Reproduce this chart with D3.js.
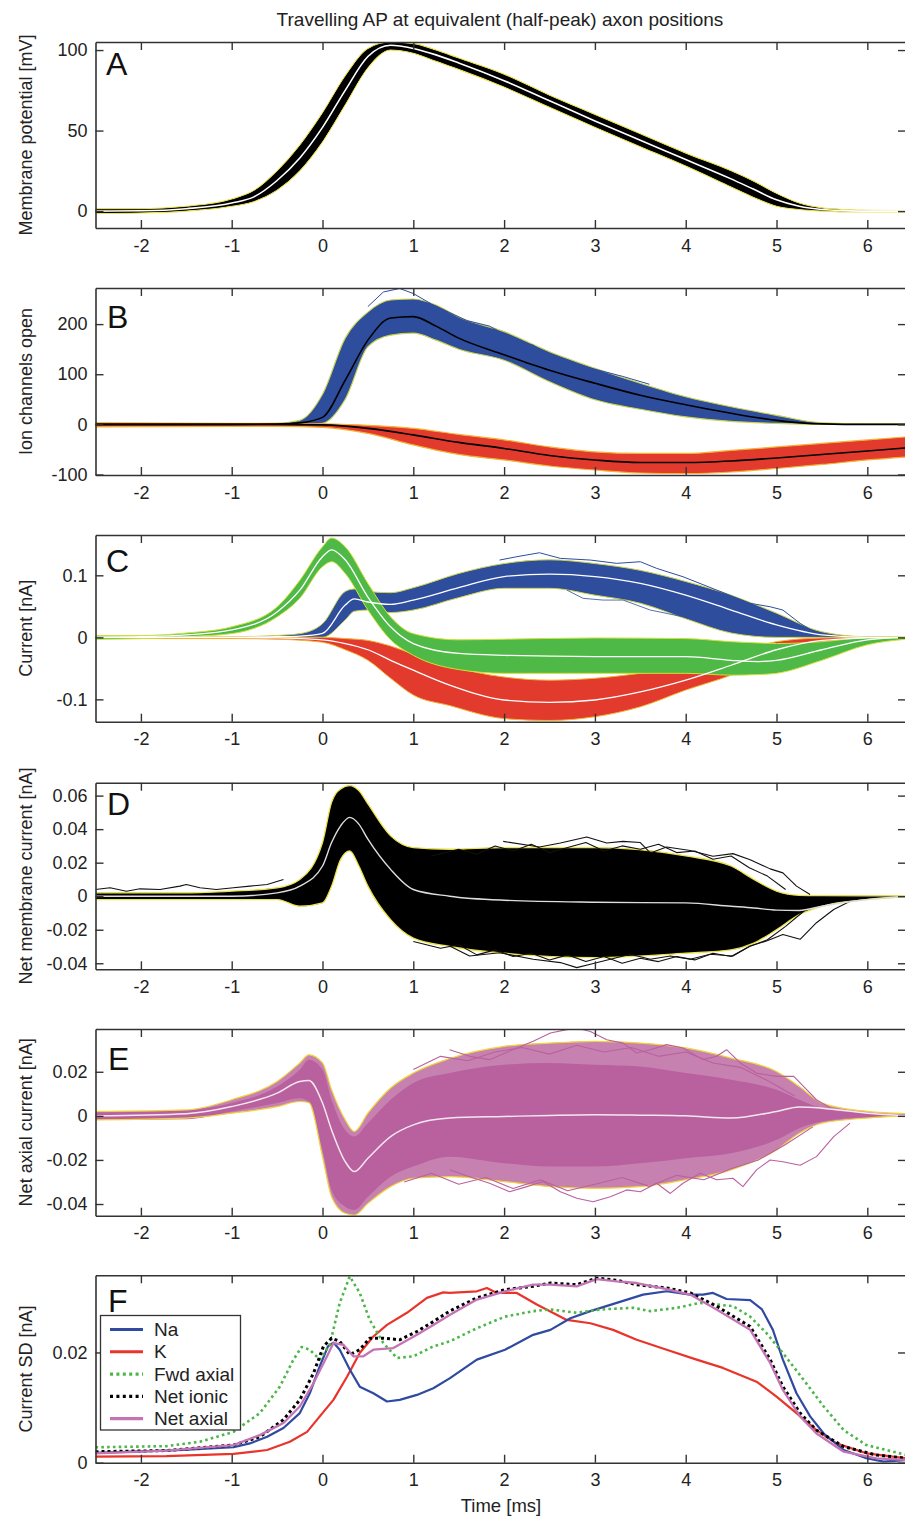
<!DOCTYPE html>
<html><head><meta charset="utf-8">
<script src="https://cdn.jsdelivr.net/npm/d3@7"></script>
<style>
body{margin:0;background:#fff}
svg{display:block}
text{font-family:"Liberation Sans",Arial,Helvetica,sans-serif}
</style>
</head><body>
<svg id="chart" width="905" height="1516"></svg>
<script>
// ---------------- DATA ----------------
const xTicks = [-2, -1, 0, 1, 2, 3, 4, 5, 6];
const titleText = "Travelling AP at equivalent (half-peak) axon positions";
const xLabel = "Time [ms]";
const panelLetters = ["A", "B", "C", "D", "E", "F"];
const yLabels = ["Membrane potential [mV]", "Ion channels open", "Current [nA]",
  "Net membrane current [nA]", "Net axial current [nA]", "Current SD [nA]"];
const yTickSets = [[0, 50, 100], [-100, 0, 100, 200], [-0.1, 0, 0.1],
  [-0.04, -0.02, 0, 0.02, 0.04, 0.06], [-0.04, -0.02, 0, 0.02], [0, 0.02]];
const yDomains = [[-10.5, 105], [-101, 272], [-0.136, 0.165],
  [-0.0436, 0.0677], [-0.0453, 0.0394], [0, 0.034]];

// Panel A : membrane potential band (mV)
const aT    = [-2.5,-2,-1.5,-1,-0.75,-0.5,-0.25,0,0.25,0.5,0.75,1,1.25,1.5,2,2.5,3,3.5,4,4.5,4.75,5,5.25,5.5,5.75,6,6.43];
const aMean = [0,0.2,1.5,5,9,19,33,52,75,96,103,101,97,92,81,68.5,56,44,32,20,13.5,7,3,1,0.3,0,0];
const aHi   = [1.5,1.5,3,7.5,13,25,41,61,84,101,105,104,100,95,85,72,60,48,36,25,18.5,11,5,2,1,0.5,0.3];
const aLo   = [-1.5,-1.2,0,3,6,13,25,43,66,89,100,98,93,88,77,64.5,52,40,28,15,8.5,3,1,0,-0.5,-0.5,-0.5];

// Panel B : ion channels open (Na positive, K negative)
const bNaT    = [-2.5,-1,-0.5,-0.25,0,0.25,0.5,0.75,1,1.25,1.5,2,2.5,3,3.5,4,4.5,5,5.5,6,6.43];
const bNaMean = [0,0,0.5,3,14,88,168,212,215,196,172,139,108,82,58,39,22,8,1,0,0];
const bNaHi   = [1,1,2,8,60,172,224,248,250,238,214,185,145,112,82,55,35,18,3,1,1];
const bNaLo   = [-1,-1,-1,-1,2,50,155,178,182,168,150,128,85,49,30,15,6,2,0,0,0];
const bKT     = [-2.5,-1,-0.5,0,0.5,1,1.5,2,2.5,3,3.5,4,4.5,5,5.5,6,6.43];
const bKMean  = [0,0,0,-1,-8,-21,-36,-48,-62,-71,-76,-76,-73,-67,-60,-53,-47];
const bKHi    = [3,2,2,1,-2,-8,-20,-31,-45,-55,-58,-58,-52,-45,-38,-31,-25];
const bKLo    = [-5,-4,-4,-6,-18,-41,-60,-71,-83,-91,-97,-98,-95,-88,-80,-71,-65];
const bNaOutT = [0.5,0.67,0.85,1.0,1.2,1.4,1.59,1.84,2.14,2.32,2.51,2.8,3.0,3.3,3.6];
const bNaOutV = [235,264,271,261,240,223,207,196,166,158,136,120,110,96,80];

// Panel C : currents (nA)
const cNaT    = [-2.5,-1,-0.5,-0.25,0,0.25,0.35,0.5,0.75,1,1.5,2,2.5,3,3.5,4,4.5,5,5.5,6,6.43];
const cNaMean = [0,0,0.001,0.002,0.0065,0.052,0.062,0.057,0.053,0.060,0.080,0.098,0.102,0.098,0.087,0.068,0.044,0.020,0.004,0,0];
const cNaHi   = [0.001,0.001,0.003,0.006,0.022,0.074,0.078,0.074,0.072,0.080,0.103,0.119,0.125,0.119,0.108,0.090,0.068,0.039,0.009,0.001,0.001];
const cNaLo   = [-0.001,-0.001,0,0,0,0.028,0.042,0.044,0.040,0.044,0.064,0.079,0.079,0.068,0.055,0.030,0.007,0,0,0,0];
const cGT     = [-2.5,-2,-1.5,-1,-0.5,-0.25,0,0.1,0.25,0.5,0.75,1,1.5,2,3,4,4.5,4.8,5,5.5,6,6.43];
const cGMean  = [0,0.001,0.004,0.012,0.041,0.076,0.130,0.141,0.125,0.065,0.017,-0.010,-0.026,-0.029,-0.031,-0.031,-0.037,-0.039,-0.037,-0.020,-0.004,0];
const cGHi    = [0.003,0.003,0.007,0.017,0.049,0.092,0.146,0.160,0.146,0.087,0.033,0.006,-0.004,-0.003,-0.001,-0.002,-0.007,-0.009,-0.010,-0.007,0,0.001];
const cGLo    = [-0.003,-0.002,0.001,0.006,0.033,0.063,0.114,0.122,0.103,0.044,-0.004,-0.029,-0.052,-0.058,-0.058,-0.058,-0.061,-0.060,-0.058,-0.037,-0.012,-0.003];
const cKT     = [-2.5,-1,-0.5,0,0.25,0.5,0.75,1,1.4,2,2.5,3,3.5,4,4.5,5,5.5,6,6.43];
const cKMean  = [0,0,-0.001,-0.004,-0.010,-0.020,-0.037,-0.053,-0.077,-0.101,-0.105,-0.101,-0.088,-0.069,-0.045,-0.020,-0.005,-0.001,0];
const cKHi    = [0.001,0.001,0,0,-0.002,-0.005,-0.014,-0.027,-0.046,-0.064,-0.069,-0.066,-0.058,-0.047,-0.026,-0.007,-0.001,0,0.001];
const cKLo    = [-0.002,-0.002,-0.003,-0.008,-0.020,-0.037,-0.066,-0.093,-0.110,-0.131,-0.134,-0.128,-0.112,-0.085,-0.061,-0.030,-0.010,-0.002,-0.001];
const cNaOut1T = [1.95,2.14,2.39,2.62,2.95,3.24,3.5,3.68,3.97,4.34,4.71,4.93,5.07,5.26,5.44];
const cNaOut1V = [0.1246,0.130,0.1364,0.1273,0.1246,0.1193,0.1219,0.1112,0.0977,0.0763,0.0548,0.0493,0.044,0.0226,0.0064];
const cNaOut2T = [2.69,2.87,3.09,3.31,3.61,3.97,4.16];
const cNaOut2V = [0.0763,0.0629,0.0601,0.0601,0.044,0.0332,0.0251];

// Panel D : net membrane current (nA)
const dT    = [-2.5,-1.5,-1,-0.5,-0.25,0,0.1,0.2,0.3,0.4,0.5,0.75,1,1.4,2,3,4,4.5,4.75,5,5.25,5.5,6,6.43];
const dMean = [0,0,0,0.002,0.006,0.018,0.032,0.042,0.047,0.043,0.034,0.016,0.004,0,-0.0024,-0.0036,-0.004,-0.006,-0.007,-0.0083,-0.0085,-0.006,-0.002,0];
const dHi   = [0.002,0.002,0.003,0.005,0.010,0.032,0.056,0.064,0.066,0.063,0.055,0.036,0.029,0.028,0.029,0.029,0.024,0.018,0.010,0.003,0.0005,0.0003,0.0002,0.0002];
const dLo   = [-0.002,-0.002,-0.002,-0.002,-0.006,-0.004,0.006,0.022,0.027,0.018,0.006,-0.014,-0.025,-0.030,-0.034,-0.0366,-0.034,-0.032,-0.028,-0.020,-0.011,-0.006,-0.002,-0.0005];
const dOut1T = [1.99,2.39,2.62,2.91,3.13,3.31,3.50,3.61,3.79,4.05,4.30,4.52,4.71,4.93,5.07,5.22,5.37];
const dOut1V = [0.0327,0.0293,0.0317,0.0353,0.0317,0.0327,0.032,0.0258,0.0293,0.0273,0.0238,0.0254,0.0218,0.0163,0.0139,0.006,0.001];
const dOut2T = [1.40,1.62,1.95,2.32,2.62,2.80,2.95,3.17,3.39,3.61,3.83,4.05,4.27,4.52,4.71,4.89,5.07,5.26,5.44,5.63,5.81];
const dOut2V = [-0.0297,-0.0357,-0.0337,-0.0376,-0.0396,-0.0426,-0.0406,-0.0376,-0.0346,-0.0376,-0.0357,-0.0376,-0.0346,-0.0357,-0.0297,-0.0267,-0.0228,-0.0257,-0.0158,-0.0079,-0.003];
const dOut3T = [-2.5,-2.34,-2.16,-2.01,-1.79,-1.57,-1.50,-1.35,-1.17,-0.98,-0.80,-0.61,-0.43];
const dOut3V = [0.004,0.005,0.003,0.0044,0.004,0.006,0.007,0.005,0.004,0.005,0.006,0.007,0.010];
const dOut4T = [1.2,1.5,1.7,1.9,2.1,2.3,2.5,2.7,2.9,3.1,3.3,3.5,3.7,3.9,4.1,4.3,4.5,4.7,4.9,5.1];
const dOut4V = [0.024,0.028,0.025,0.030,0.027,0.031,0.026,0.029,0.032,0.027,0.030,0.028,0.031,0.026,0.027,0.022,0.024,0.017,0.012,0.004];
const dOut5T = [1.0,1.3,1.5,1.7,1.9,2.1,2.3,2.5,2.7,2.9,3.1,3.3,3.5,3.7,3.9,4.1,4.3,4.5,4.7,4.9,5.1,5.3];
const dOut5V = [-0.027,-0.031,-0.029,-0.035,-0.032,-0.036,-0.034,-0.038,-0.035,-0.039,-0.036,-0.040,-0.037,-0.039,-0.036,-0.038,-0.034,-0.036,-0.030,-0.026,-0.018,-0.009];

// Panel E : net axial current (nA)
const eT     = [-2.5,-1.5,-1,-0.5,-0.25,-0.15,0,0.1,0.25,0.35,0.5,0.75,1,1.4,2,2.5,3,3.5,4,4.5,5,5.25,5.5,6,6.43];
const eMean  = [0,0.001,0.0042,0.0103,0.0156,0.016,0.0058,-0.0064,-0.0208,-0.0253,-0.0192,-0.0094,-0.0041,-0.001,-0.0003,0.0002,0.0005,0.0003,0,-0.001,0.002,0.004,0.0035,0.0012,0];
const eCoreHi= [0.0015,0.0025,0.0058,0.0133,0.021,0.0255,0.021,0.0073,-0.0064,-0.0094,-0.0033,0.0073,0.0149,0.0194,0.0232,0.024,0.0232,0.0224,0.0194,0.0164,0.0118,0.0073,0.0035,0.0012,0.0005];
const eCoreLo= [-0.0018,-0.0015,0.002,0.0058,0.008,0.0064,-0.0155,-0.0336,-0.0412,-0.0427,-0.0367,-0.0276,-0.023,-0.0185,-0.0215,-0.023,-0.023,-0.0215,-0.0192,-0.017,-0.0109,-0.0056,-0.0026,-0.0006,-0.0002];
const eEnvHi = [0.002,0.0027,0.0073,0.0156,0.024,0.0277,0.024,0.0118,-0.0018,-0.0071,0.0012,0.0126,0.0194,0.026,0.0315,0.033,0.0338,0.033,0.0308,0.0262,0.0201,0.0133,0.0058,0.002,0.001];
const eEnvLo = [-0.0018,-0.001,0.0012,0.0042,0.0065,0.006,-0.0185,-0.0367,-0.0442,-0.045,-0.0397,-0.0321,-0.0283,-0.0276,-0.0298,-0.0321,-0.0329,-0.0321,-0.029,-0.0245,-0.0155,-0.0079,-0.0033,-0.001,0];
const eOut1T = [1.40,1.62,1.84,2.14,2.32,2.51,2.69,2.80,2.95,3.13,3.31,3.46,3.61,3.79,3.97,4.19,4.34,4.45,4.60,4.78,5.00,5.19,5.30,5.44,5.63];
const eOut1V = [0.030,0.027,0.0255,0.0308,0.0338,0.0376,0.0391,0.0398,0.0383,0.0345,0.033,0.0285,0.030,0.0323,0.0308,0.0255,0.027,0.030,0.024,0.0194,0.0179,0.0179,0.0133,0.0073,0.0027];
const eOut2T = [1.40,1.62,1.84,2.06,2.25,2.43,2.62,2.80,2.98,3.17,3.35,3.50,3.68,3.83,3.97,4.16,4.34,4.52,4.63,4.78,4.93,5.07,5.26,5.44,5.63,5.81];
const eOut2V = [-0.0245,-0.0276,-0.0306,-0.0344,-0.0321,-0.0298,-0.0344,-0.0374,-0.039,-0.0367,-0.0336,-0.0344,-0.0306,-0.0352,-0.0306,-0.026,-0.029,-0.0283,-0.0321,-0.0245,-0.02,-0.0208,-0.0224,-0.0185,-0.0094,-0.0033];
const eOut3T = [1.0,1.3,1.6,1.9,2.2,2.5,2.8,3.1,3.4,3.7,4.0,4.3,4.6,4.9,5.2];
const eOut3V = [0.021,0.027,0.025,0.029,0.031,0.028,0.032,0.029,0.031,0.027,0.029,0.024,0.022,0.016,0.009];
const eOut4T = [0.9,1.2,1.5,1.8,2.1,2.4,2.7,3.0,3.3,3.6,3.9,4.2,4.5,4.8,5.1,5.4];
const eOut4V = [-0.030,-0.026,-0.031,-0.028,-0.033,-0.029,-0.034,-0.031,-0.028,-0.032,-0.027,-0.029,-0.024,-0.020,-0.013,-0.005];

// Panel F : current standard deviations (nA)
const fNaT = [-2.5,-2.08,-1.53,-0.98,-0.8,-0.61,-0.43,-0.25,-0.14,-0.03,0.06,0.12,0.19,0.30,0.41,0.56,0.71,0.85,1.04,1.22,1.40,1.70,2.01,2.32,2.51,2.73,2.95,3.24,3.53,3.79,4.05,4.19,4.30,4.45,4.71,4.84,4.96,5.07,5.22,5.37,5.52,5.74,5.99,6.18,6.43];
const fNaV = [0.0018,0.002,0.0023,0.0028,0.0035,0.0047,0.0063,0.009,0.0126,0.0175,0.0211,0.0218,0.0205,0.0169,0.0138,0.0126,0.0111,0.0114,0.0123,0.0135,0.0153,0.0187,0.0205,0.0232,0.0241,0.0262,0.0275,0.029,0.0305,0.0311,0.0305,0.0305,0.0308,0.0297,0.0295,0.0278,0.0241,0.0187,0.0126,0.0084,0.0053,0.0023,0.0008,0.0002,0.0005];
const fKT  = [-2.5,-1.72,-0.98,-0.61,-0.36,-0.17,-0.03,0.12,0.27,0.41,0.56,0.71,0.93,1.15,1.33,1.40,1.70,1.81,1.92,2.14,2.36,2.69,2.95,3.20,3.46,3.79,4.12,4.41,4.78,5.00,5.22,5.44,5.66,5.99,6.43];
const fKV  = [0.0011,0.0012,0.0016,0.0023,0.0038,0.0056,0.0084,0.0114,0.0156,0.0199,0.0229,0.025,0.0272,0.0299,0.0309,0.0308,0.0311,0.0317,0.0308,0.0308,0.0287,0.0259,0.0253,0.0241,0.0223,0.0205,0.0187,0.0172,0.0147,0.012,0.009,0.0059,0.0035,0.0017,0.0008];
const fFwdT = [-2.5,-1.72,-1.35,-0.98,-0.69,-0.47,-0.32,-0.23,-0.14,-0.03,0.08,0.19,0.30,0.41,0.52,0.67,0.82,1.00,1.22,1.40,1.70,2.01,2.32,2.51,2.80,3.06,3.42,3.61,3.90,4.16,4.52,4.71,4.89,5.07,5.30,5.52,5.74,5.99,6.43];
const fFwdV = [0.0028,0.003,0.0038,0.0056,0.009,0.0138,0.0187,0.021,0.0205,0.0187,0.0214,0.029,0.0338,0.0308,0.0259,0.0217,0.019,0.0193,0.0211,0.022,0.0244,0.0265,0.0275,0.0278,0.0272,0.0278,0.0281,0.0275,0.0281,0.029,0.0284,0.0265,0.0235,0.0199,0.015,0.0102,0.0059,0.0032,0.0014];
const fIonT = [-2.5,-1.72,-0.98,-0.69,-0.43,-0.25,-0.10,0.01,0.10,0.19,0.30,0.41,0.52,0.67,0.85,1.04,1.22,1.40,1.70,2.01,2.32,2.51,2.80,3.02,3.24,3.46,3.79,4.05,4.34,4.71,4.93,5.07,5.26,5.44,5.74,6.10,6.43];
const fIonV = [0.002,0.0022,0.0032,0.0047,0.0078,0.0114,0.0162,0.0211,0.0226,0.022,0.0196,0.0205,0.0226,0.0226,0.0223,0.0238,0.0256,0.0275,0.0299,0.0314,0.032,0.0326,0.0323,0.0335,0.0331,0.0323,0.0317,0.0308,0.0284,0.0247,0.0187,0.0138,0.009,0.0059,0.0029,0.0014,0.0008];
const fAxT  = [-2.5,-1.72,-0.98,-0.69,-0.43,-0.25,-0.10,0.05,0.12,0.23,0.34,0.45,0.56,0.78,1.04,1.22,1.40,1.70,2.01,2.32,2.51,2.80,3.02,3.24,3.46,3.79,4.05,4.34,4.71,4.93,5.07,5.26,5.44,5.74,6.10,6.43];
const fAxV  = [0.0017,0.0022,0.0032,0.005,0.0072,0.0102,0.0144,0.0193,0.0217,0.0214,0.0193,0.0193,0.0205,0.0208,0.0232,0.025,0.0268,0.0296,0.0311,0.0323,0.0323,0.032,0.0333,0.0329,0.0326,0.0315,0.0305,0.0278,0.0241,0.0181,0.0132,0.0084,0.0053,0.002,0.0008,0.0005];
const legendNames = ["Na", "K", "Fwd axial", "Net ionic", "Net axial"];

// ---------------- LAYOUT / STYLE ----------------
const W = 905, H = 1516;
const left = 95.5, right = 906;
const tops = [42, 288, 535, 782.7, 1029, 1275.3];
const bottoms = [228, 475, 721.7, 969.3, 1215.7, 1462.7];
const letterPos = [[106, 75], [107, 328], [106, 571.5], [107, 815], [108, 1070], [108, 1311.5]];
const COL = {
  blue: "#2e4d9d", red: "#e23a2c", green: "#4fb947", pink: "#b9619e",
  yellow: "#ebe24a", axis: "#333", fBlue: "#2f4aa0", fRed: "#e8342b",
  fGreen: "#4cb648", fPink: "#c474b5"
};

const svg = d3.select("#chart");
svg.append("rect").attr("width", W).attr("height", H).attr("fill", "#fff");

const x = d3.scaleLinear().domain([-2.5, 6.426]).range([left, right]);

svg.append("text").attr("x", 500).attr("y", 26).attr("text-anchor", "middle")
  .attr("font-size", 19).attr("fill", "#222").text(titleText);
svg.append("text").attr("x", 501).attr("y", 1512).attr("text-anchor", "middle")
  .attr("font-size", 18.5).attr("fill", "#222").text(xLabel);

function zip(t, ...arrs) { return t.map((d, i) => [d, ...arrs.map(a => a[i])]); }

function drawBand(g, y, t, lo, hi, fill, opacity) {
  g.append("path").datum(zip(t, lo, hi))
    .attr("d", d3.area().x(d => x(d[0])).y0(d => y(d[1])).y1(d => y(d[2])).curve(d3.curveMonotoneX))
    .attr("fill", fill).attr("fill-opacity", opacity == null ? 1 : opacity).attr("stroke", "none");
}
function drawLine(g, y, t, v, stroke, width, opts) {
  opts = opts || {};
  g.append("path").datum(zip(t, v))
    .attr("d", d3.line().x(d => x(d[0])).y(d => y(d[1])).curve(opts.curve || d3.curveMonotoneX))
    .attr("fill", "none").attr("stroke", stroke).attr("stroke-width", width)
    .attr("stroke-opacity", opts.opacity == null ? 1 : opts.opacity)
    .attr("stroke-dasharray", opts.dash || null)
    .attr("stroke-linejoin", "round").attr("stroke-linecap", opts.cap || "butt");
}
function edges(g, y, t, lo, hi, col, w) {
  drawLine(g, y, t, lo, col, w || 1.2);
  drawLine(g, y, t, hi, col, w || 1.2);
}
const jag = { curve: d3.curveLinear };

panelLetters.forEach((letter, i) => {
  const top = tops[i], bottom = bottoms[i];
  const y = d3.scaleLinear().domain(yDomains[i]).range([bottom, top]);
  const g = svg.append("g");
  const clipId = "clip" + i;
  svg.append("clipPath").attr("id", clipId).append("rect")
    .attr("x", left).attr("y", top).attr("width", right - left).attr("height", bottom - top);
  const p = g.append("g").attr("clip-path", `url(#${clipId})`);

  if (i === 0) {
    drawBand(p, y, aT, aLo, aHi, "#000");
    edges(p, y, aT, aLo, aHi, COL.yellow, 1.1);
    drawBand(p, y, aT, aLo.map(v => v + 0.6), aHi.map(v => v - 0.6), "#000");
    drawLine(p, y, aT, aMean, "#fff", 1.6);
  } else if (i === 1) {
    drawBand(p, y, bNaT, bNaLo, bNaHi, COL.blue);
    edges(p, y, bNaT, bNaLo, bNaHi, "#c9d24a", 1.1);
    drawLine(p, y, bNaOutT, bNaOutV, COL.blue, 1, jag);
    drawBand(p, y, bKT, bKLo, bKHi, COL.red);
    edges(p, y, bKT, bKLo, bKHi, "#f2b233", 1.2);
    drawLine(p, y, bNaT, bNaMean, "#000", 1.6);
    drawLine(p, y, bKT, bKMean, "#000", 1.6);
  } else if (i === 2) {
    drawBand(p, y, cNaT, cNaLo, cNaHi, COL.blue);
    edges(p, y, cNaT, cNaLo, cNaHi, "#c9d24a", 1);
    drawLine(p, y, cNaOut1T, cNaOut1V, COL.blue, 1, jag);
    drawLine(p, y, cNaOut2T, cNaOut2V, COL.blue, 1, { curve: d3.curveLinear, opacity: 0.8 });
    drawBand(p, y, cKT, cKLo, cKHi, COL.red);
    edges(p, y, cKT, cKLo, cKHi, "#f2b233", 1);
    drawBand(p, y, cGT, cGLo, cGHi, COL.green);
    edges(p, y, cGT, cGLo, cGHi, "#cfe03a", 1);
    drawLine(p, y, cNaT, cNaMean, "#fff", 1.3);
    drawLine(p, y, cKT, cKMean, "#fff", 1.3);
    drawLine(p, y, cGT, cGMean, "#fff", 1.3);
  } else if (i === 3) {
    drawBand(p, y, dT, dLo, dHi, "#000");
    edges(p, y, dT, dLo, dHi, COL.yellow, 1.3);
    [[dOut1T, dOut1V], [dOut2T, dOut2V], [dOut3T, dOut3V], [dOut4T, dOut4V], [dOut5T, dOut5V]]
      .forEach(([t, v]) => drawLine(p, y, t, v, "#111", 1.1, jag));
    drawLine(p, y, dT, dMean, "#ddd", 1.4);
  } else if (i === 4) {
    drawBand(p, y, eT, eEnvLo, eEnvHi, COL.pink, 0.8);
    drawBand(p, y, eT, eCoreLo, eCoreHi, COL.pink);
    edges(p, y, eT, eEnvLo, eEnvHi, "#efd23c", 1.2);
    [[eOut1T, eOut1V], [eOut2T, eOut2V], [eOut3T, eOut3V], [eOut4T, eOut4V]]
      .forEach(([t, v]) => drawLine(p, y, t, v, COL.pink, 1.1, jag));
    drawLine(p, y, eT, eMean, "#f4e8f0", 1.5);
  } else {
    drawLine(p, y, fKT, fKV, COL.fRed, 2.2, jag);
    drawLine(p, y, fNaT, fNaV, COL.fBlue, 2.2, jag);
    drawLine(p, y, fFwdT, fFwdV, COL.fGreen, 2.6, { curve: d3.curveLinear, dash: "2.6,3.2" });
    drawLine(p, y, fIonT, fIonV, "#000", 3, { curve: d3.curveLinear, dash: "3,3" });
    drawLine(p, y, fAxT, fAxV, COL.fPink, 2.3, jag);
  }

  // axes (inward ticks on all four sides)
  const fmt = d => String(d);
  const styleAxis = a => {
    a.attr("font-family", null).attr("font-size", null);
    a.select(".domain").attr("stroke", COL.axis).attr("stroke-width", 1.6);
    a.selectAll(".tick line").attr("stroke", COL.axis).attr("stroke-width", 1.4);
    a.selectAll(".tick text").attr("font-size", 18).attr("fill", "#222");
  };
  g.append("g").attr("transform", `translate(0,${bottom})`)
    .call(d3.axisBottom(x).tickValues(xTicks).tickSize(-8).tickSizeOuter(0).tickPadding(11).tickFormat(fmt))
    .call(styleAxis);
  g.append("g").attr("transform", `translate(0,${top})`)
    .call(d3.axisTop(x).tickValues(xTicks).tickSize(-8).tickSizeOuter(0).tickFormat(""))
    .call(styleAxis);
  g.append("g").attr("transform", `translate(${left},0)`)
    .call(d3.axisLeft(y).tickValues(yTickSets[i]).tickSize(-8).tickSizeOuter(0).tickPadding(8).tickFormat(fmt))
    .call(styleAxis);
  g.append("g").attr("transform", `translate(${right},0)`)
    .call(d3.axisRight(y).tickValues(yTickSets[i]).tickSize(-8).tickSizeOuter(0).tickFormat(""))
    .call(styleAxis);

  // y label
  g.append("text")
    .attr("transform", `translate(32,${(top + bottom) / 2}) rotate(-90)`)
    .attr("text-anchor", "middle").attr("font-size", 18).attr("fill", "#222")
    .text(yLabels[i]);
  // panel letter
  g.append("text").attr("x", letterPos[i][0]).attr("y", letterPos[i][1])
    .attr("font-family", "Lato, 'DejaVu Sans', sans-serif").attr("font-weight", 300)
    .attr("font-size", 32).attr("fill", "#111").text(letter);

  if (i === 5) {
    const lg = g.append("g");
    lg.append("rect").attr("x", 100.5).attr("y", 1315.5).attr("width", 140).attr("height", 114.5)
      .attr("fill", "#fff").attr("stroke", COL.axis).attr("stroke-width", 1.3);
    const styles = [
      { c: COL.fBlue, w: 3, dash: null }, { c: COL.fRed, w: 3, dash: null },
      { c: COL.fGreen, w: 3.2, dash: "3,3.4" }, { c: "#000", w: 3.4, dash: "3,3.4" },
      { c: COL.fPink, w: 3.2, dash: null }];
    legendNames.forEach((name, k) => {
      const yy = 1329.5 + k * 22.3;
      lg.append("line").attr("x1", 110).attr("x2", 143).attr("y1", yy).attr("y2", yy)
        .attr("stroke", styles[k].c).attr("stroke-width", styles[k].w)
        .attr("stroke-dasharray", styles[k].dash);
      lg.append("text").attr("x", 154).attr("y", yy + 6.5).attr("font-size", 19)
        .attr("fill", "#222").text(name);
    });
  }
});
</script>
</body></html>
